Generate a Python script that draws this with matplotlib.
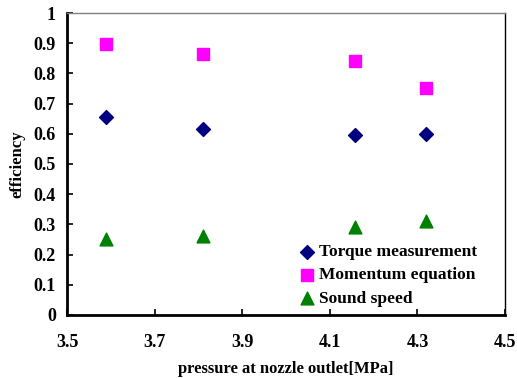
import matplotlib.pyplot as plt
import numpy as np

pressure = [3.59, 3.81, 4.157, 4.32]
torque = [0.655, 0.615, 0.595, 0.60]
momentum = [0.898, 0.863, 0.84, 0.75]
sound = [0.25, 0.26, 0.29, 0.31]

plt.rcParams['font.family'] = ['Liberation Serif', 'DejaVu Serif']
plt.rcParams['font.weight'] = 'bold'

fig = plt.figure(figsize=(5.17, 3.78), dpi=100)
ax = fig.add_axes([0.1296, 0.1667, 0.977 - 0.1296, 0.9656 - 0.1667])

ax.scatter(pressure, torque, marker='D', s=50, color='#000080', label='Torque measurement', zorder=3)
ax.scatter(pressure, momentum, marker='s', s=80, color='#FF00FF', label='Momentum equation', zorder=3)
ax.scatter(pressure, sound, marker='^', s=85, color='#008000', label='Sound speed', zorder=3)

ax.set_xlim(3.5, 4.5)
ax.set_ylim(0, 1)
ax.set_xticks(np.arange(3.5, 4.51, 0.2))
ax.set_yticks(np.arange(0, 1.01, 0.1))
ax.set_xticklabels(['3.5', '3.7', '3.9', '4.1', '4.3', '4.5'])
ax.set_yticklabels(['0', '0.1', '0.2', '0.3', '0.4', '0.5', '0.6', '0.7', '0.8', '0.9', '1'])
ax.tick_params(direction='in', length=4, width=1.2, labelsize=13, pad=8)
ax.tick_params(axis='x', pad=14)
for lab in ax.get_xticklabels() + ax.get_yticklabels():
    lab.set_fontweight('bold')

ax.spines['left'].set_linewidth(2)
ax.spines['bottom'].set_linewidth(2)
ax.spines['right'].set_linewidth(1)
ax.spines['top'].set_linewidth(1)
ax.spines['top'].set_color('#808080')

ax.set_xlabel('pressure at nozzle outlet[MPa]', fontsize=12, fontweight='bold', labelpad=7)
ax.set_ylabel('efficiency', fontsize=12, fontweight='bold', labelpad=6)

ax.legend(loc='lower left', bbox_to_anchor=(0.512, 0.005), frameon=False,
          handletextpad=0.2, labelspacing=0.4, borderaxespad=0.0, handlelength=1.0,
          prop={'weight': 'bold', 'size': 12.5})

fig.savefig('out.png', dpi=100)
